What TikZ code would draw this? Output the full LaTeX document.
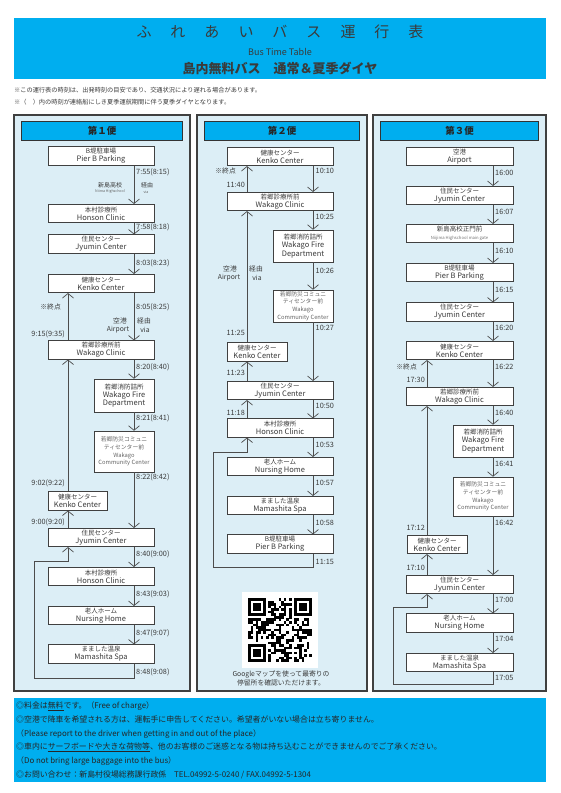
\documentclass[tikz,border=0pt]{standalone}
\usepackage{fontspec}
\setmainfont{Noto Sans CJK JP}
\usetikzlibrary{arrows.meta,positioning}
\definecolor{hdrblue}{HTML}{00AEEF}
\definecolor{panelblue}{HTML}{DCEEF6}
\definecolor{inkgray}{HTML}{3A3A3A}
\newcommand\stoptxt[2]{{\fontsize{6.5}{8.2}\selectfont #1}\\{\fontsize{7.5}{8.2}\selectfont #2}}
\newcommand\firetxt{{\fontsize{6.5}{8.2}\selectfont 若郷消防詰所}\\Wakago Fire\\Department}
\newcommand\titlesp{\hspace{19pt}}

\begin{document}
\begin{tikzpicture}[x=1pt,y=-1pt,>={Straight Barb[length=4.5pt,width=11pt]},
 every node/.style={text=inkgray},
 stopbox/.style={draw=black!75,fill=white,line width=0.6pt,align=center,inner sep=0pt,
   minimum width=106pt,minimum height=18.5pt,font=\fontsize{7.5}{8.2}\selectfont},
 sidebox/.style={stopbox,minimum width=60pt},
 commbox/.style={sidebox,text=black!60,font=\fontsize{5.8}{7.6}\selectfont},
 panel/.style={draw=black!75,fill=panelblue,line width=1.2pt},
 headbar/.style={draw=black!80,fill=hdrblue,line width=0.6pt,minimum height=19pt,
   inner sep=0pt,text=black!85,font=\fontsize{9.5}{10}\selectfont\bfseries},
 flow/.style={->,draw=black!70,line width=0.7pt},
 tlab/.style={inner sep=0pt,font=\fontsize{7.3}{8}\selectfont},
 vlab/.style={inner sep=0pt,font=\fontsize{6.8}{7}\selectfont},
 tiny/.style={inner sep=0pt,text=black!60,font=\fontsize{3.6}{4}\selectfont},
 note/.style={anchor=west,inner sep=0pt,font=\fontsize{6.2}{7}\selectfont},
 foot/.style={anchor=west,inner sep=0pt,text=black!85,font=\fontsize{7.9}{9}\selectfont}]
\useasboundingbox (0,0) rectangle (560,793);

% header
\node[fill=hdrblue,minimum width=532pt,minimum height=61pt,inner sep=0pt] (hdr) at (280,48.5) {};
\node (title) at (280,32) {\fontsize{15}{15}\selectfont ふ\titlesp{}れ\titlesp{}あ\titlesp{}い\titlesp{}バ\titlesp{}ス\titlesp{}運\titlesp{}行\titlesp{}表};
\node (titleen) at (280,52) {\fontsize{9}{9}\selectfont Bus Time Table};
\node (titlejp) at (280,68) {\fontsize{13}{13}\selectfont\bfseries 島内無料バス　通常＆夏季ダイヤ};
\node[note] (note1) at (14,90) {※この運行表の時刻は、出発時刻の目安であり、交通状況により遅れる場合があります。};
\node[note] (note2) at (14,102) {※（　）内の時刻が連絡船にしき夏季運航期間に伴う夏季ダイヤとなります。};

% panels and headings
\foreach \l/\r in {14/190,197/367,373/546}{\draw[panel] (\l,115) rectangle (\r,691);}
\foreach \cx/\w/\n [count=\k] in {102/161/１,282/155/２,459.5/158/３}{
  \node[headbar,minimum width=\w pt] (bar\k) at (\cx,130.5) {第\n 便};}

% ---- 1st run
\coordinate (c1r) at (134,0);
\coordinate (c1l) at (68,0);
\node[stopbox] (c1pier) at (101,156) {\stoptxt{B堤駐車場}{Pier B Parking}};
\node[stopbox] (c1honson) at (101,213.5) {\stoptxt{本村診療所}{Honson Clinic}};
\node[stopbox] (c1jyumin) at (101,244) {\stoptxt{住民センター}{Jyumin Center}};
\node[stopbox] (c1kenko) at (101,283.5) {\stoptxt{健康センター}{Kenko Center}};
\node[stopbox] (c1wclinic) at (101,350) {\stoptxt{若郷診療所前}{Wakago Clinic}};
\node[sidebox,minimum height=33pt] (c1fire) at (124,395.5) {\firetxt};
\node[commbox,minimum height=41pt] (c1comm) at (124,451.5) {若郷防災コミュニ\\ティセンター前\\Wakago\\Community Center};
\node[sidebox,minimum width=59pt] (c1kenko2) at (77.5,501) {\stoptxt{健康センター}{Kenko Center}};
\node[stopbox] (c1jyumin2) at (101,537.5) {\stoptxt{住民センター}{Jyumin Center}};
\node[stopbox] (c1honson2) at (101,576.5) {\stoptxt{本村診療所}{Honson Clinic}};
\node[stopbox] (c1nursing) at (101,615.5) {\stoptxt{老人ホーム}{Nursing Home}};
\node[stopbox] (c1spa) at (101,654) {\stoptxt{まました温泉}{Mamashita Spa}};
\foreach \a/\b in {c1pier/c1honson,c1honson/c1jyumin,c1jyumin/c1kenko,c1kenko/c1wclinic,
  c1wclinic/c1fire,c1fire/c1comm,c1comm/c1jyumin2,c1jyumin2/c1honson2,c1honson2/c1nursing,c1nursing/c1spa}
  {\draw[flow] (\a.south -| c1r) -- (\b.north -| c1r);}
\foreach \a/\b in {c1wclinic/c1kenko,c1kenko2/c1wclinic,c1jyumin2/c1kenko2}
  {\draw[flow] (\a.north -| c1l) -- (\b.south -| c1l);}
\coordinate (c1turn) at (34,678);
\coordinate (c1back) at (68,561);
\draw[flow] (c1spa.south -| c1r) |- (c1turn) |- (c1back) -- (c1jyumin2.south -| c1l);
\foreach \lab/\y [count=\i] in {7:55(8:15)/172,7:58(8:18)/227,8:03(8:23)/263,8:05(8:25)/307,
  8:20(8:40)/367,8:21(8:41)/418,8:22(8:42)/477,8:40(9:00)/554,8:43(9:03)/594,8:47(9:07)/633,8:48(9:08)/672}
  {\node[tlab,anchor=west] (c1t\i) at (136,\y) {\lab};}
\foreach \lab/\y [count=\i] in {9:15(9:35)/334,9:02(9:22)/483,9:00(9:20)/522}
  {\node[tlab,anchor=east] (c1s\i) at (65,\y) {\lab};}
\node[vlab,anchor=east] (c1end) at (61,307) {※終点};
\node[vlab,font=\fontsize{6}{7}\selectfont] (c1via1) at (110,185) {新島高校};
\node[tiny] (c1via1en) at (110,192) {Niima Highschool};
\node[vlab,font=\fontsize{6}{7}\selectfont] (c1via2) at (147,185) {経由};
\node[tiny] (c1via2en) at (146,192) {via};
\node[vlab] (c1air) at (120,321) {空港};
\node[vlab] (c1airen) at (118,329.5) {Airport};
\node[vlab] (c1via3) at (144,321) {経由};
\node[vlab] (c1via3en) at (145,329.5) {via};

% ---- 2nd run
\coordinate (c2r) at (313,0);
\coordinate (c2l) at (247,0);
\node[stopbox] (c2kenko) at (280,156.5) {\stoptxt{健康センター}{Kenko Center}};
\node[stopbox] (c2wclinic) at (280,201.5) {\stoptxt{若郷診療所前}{Wakago Clinic}};
\node[sidebox,minimum height=32pt] (c2fire) at (303,246) {\firetxt};
\node[commbox,minimum height=32pt] (c2comm) at (303,306) {若郷防災コミュニ\\ティセンター前\\Wakago\\Community Center};
\node[sidebox] (c2kenko2) at (257,352) {\stoptxt{健康センター}{Kenko Center}};
\node[stopbox] (c2jyumin) at (280,390.5) {\stoptxt{住民センター}{Jyumin Center}};
\node[stopbox] (c2honson) at (280,428) {\stoptxt{本村診療所}{Honson Clinic}};
\node[stopbox] (c2nursing) at (280,466.5) {\stoptxt{老人ホーム}{Nursing Home}};
\node[stopbox] (c2spa) at (280,505.5) {\stoptxt{まました温泉}{Mamashita Spa}};
\node[stopbox] (c2pier) at (280,544) {\stoptxt{B堤駐車場}{Pier B Parking}};
\foreach \a/\b in {c2kenko/c2wclinic,c2wclinic/c2fire,c2fire/c2comm,c2comm/c2jyumin,
  c2jyumin/c2honson,c2honson/c2nursing,c2nursing/c2spa,c2spa/c2pier}
  {\draw[flow] (\a.south -| c2r) -- (\b.north -| c2r);}
\foreach \a/\b in {c2wclinic/c2kenko,c2kenko2/c2wclinic,c2jyumin/c2kenko2,c2honson/c2jyumin}
  {\draw[flow] (\a.north -| c2l) -- (\b.south -| c2l);}
\coordinate (c2turn) at (213,567);
\coordinate (c2back) at (247,452);
\draw[flow] (c2pier.south -| c2r) |- (c2turn) |- (c2back) -- (c2honson.south -| c2l);
\foreach \lab/\y [count=\i] in {10:10/171,10:25/217,10:26/271,10:27/328,10:50/406,10:53/445,10:57/483,10:58/523,11:15/562}
  {\node[tlab,anchor=west] (c2t\i) at (315.5,\y) {\lab};}
\foreach \lab/\y [count=\i] in {11:40/185,11:25/333,11:23/373,11:18/413}
  {\node[tlab,anchor=east] (c2s\i) at (245,\y) {\lab};}
\node[vlab,anchor=east] (c2end) at (236,171) {※終点};
\node[vlab] (c2air) at (230,269) {空港};
\node[vlab] (c2airen) at (229,277.5) {Airport};
\node[vlab] (c2via) at (256,269) {経由};
\node[vlab] (c2viaen) at (257,277.5) {via};

% QR code
\node[fill=white,minimum size=76pt,inner sep=0pt] (qr) at (280,630) {};
\pgfmathsetseed{42}
\foreach \i in {0,...,24}{\foreach \j in {0,...,24}{
  \pgfmathrandominteger{\qb}{0}{99}
  \pgfmathtruncatemacro{\qs}{((\i<8)&&(\j<8))||((\i>16)&&(\j<8))||((\i<8)&&(\j>16))}
  \ifnum\qs=0 \ifnum\qb<52 \fill (248+2.56*\i,598+2.56*\j) rectangle ++(2.6,2.6); \fi\fi}}
\foreach \fx/\fy in {0/0,18/0,0/18}{
  \fill (248+2.56*\fx,598+2.56*\fy) rectangle ++(17.92,17.92);
  \fill[white] (250.56+2.56*\fx,600.56+2.56*\fy) rectangle ++(12.8,12.8);
  \fill (253.12+2.56*\fx,603.12+2.56*\fy) rectangle ++(7.68,7.68);}
\node[align=center,inner sep=0pt,font=\fontsize{6.8}{9.5}\selectfont] (qrcap) at (281,678.5)
  {Googleマップを使って最寄りの\\停留所を確認いただけます。};

% ---- 3rd run
\coordinate (c3r) at (493,0);
\coordinate (c3l) at (427,0);
\node[stopbox,minimum width=107pt] (c3airport) at (459.5,156.5) {\stoptxt{空港}{Airport}};
\node[stopbox,minimum width=107pt] (c3jyumin) at (459.5,195.5) {\stoptxt{住民センター}{Jyumin Center}};
\node[stopbox,minimum width=107pt] (c3gate) at (459.5,233.5) {{\fontsize{6.5}{8.2}\selectfont 新島高校正門前}\\{\fontsize{4.2}{8.2}\selectfont\color{black!55}Niijima Highschool main gate}};
\node[stopbox,minimum width=107pt] (c3pier) at (459.5,272.5) {\stoptxt{B堤駐車場}{Pier B Parking}};
\node[stopbox,minimum width=107pt] (c3jyumin2) at (459.5,312) {\stoptxt{住民センター}{Jyumin Center}};
\node[stopbox,minimum width=107pt] (c3kenko) at (459.5,350.5) {\stoptxt{健康センター}{Kenko Center}};
\node[stopbox,minimum width=107pt] (c3wclinic) at (459.5,396.5) {\stoptxt{若郷診療所前}{Wakago Clinic}};
\node[sidebox,minimum height=32pt] (c3fire) at (483,441) {\firetxt};
\node[commbox,minimum height=39pt] (c3comm) at (483,496.5) {若郷防災コミュニ\\ティセンター前\\Wakago\\Community Center};
\node[sidebox] (c3kenko2) at (437,544.5) {\stoptxt{健康センター}{Kenko Center}};
\node[stopbox,minimum width=107pt] (c3jyumin3) at (459.5,584.5) {\stoptxt{住民センター}{Jyumin Center}};
\node[stopbox,minimum width=107pt] (c3nursing) at (459.5,623) {\stoptxt{老人ホーム}{Nursing Home}};
\node[stopbox,minimum width=107pt] (c3spa) at (459.5,662.5) {\stoptxt{まました温泉}{Mamashita Spa}};
\foreach \a/\b in {c3airport/c3jyumin,c3jyumin/c3gate,c3gate/c3pier,c3pier/c3jyumin2,c3jyumin2/c3kenko,
  c3kenko/c3wclinic,c3wclinic/c3fire,c3fire/c3comm,c3comm/c3jyumin3,c3jyumin3/c3nursing,c3nursing/c3spa}
  {\draw[flow] (\a.south -| c3r) -- (\b.north -| c3r);}
\foreach \a/\b in {c3wclinic/c3kenko,c3kenko2/c3wclinic,c3jyumin3/c3kenko2}
  {\draw[flow] (\a.north -| c3l) -- (\b.south -| c3l);}
\coordinate (c3turn) at (393,684);
\coordinate (c3back) at (427,607);
\draw[flow] (c3spa.south -| c3r) |- (c3turn) |- (c3back) -- (c3jyumin3.south -| c3l);
\foreach \lab/\y [count=\i] in {16:00/173,16:07/212,16:10/251,16:15/290,16:20/328,16:22/367,
  16:40/413,16:41/464,16:42/523,17:00/600,17:04/639,17:05/678}
  {\node[tlab,anchor=west] (c3t\i) at (495,\y) {\lab};}
\foreach \lab/\y [count=\i] in {17:30/380,17:12/528,17:10/568}
  {\node[tlab,anchor=east] (c3s\i) at (425,\y) {\lab};}
\node[vlab,anchor=east] (c3end) at (417,367) {※終点};

% footer
\node[fill=hdrblue,minimum width=532pt,minimum height=84pt,inner sep=0pt] (ftr) at (280,740) {};
\node[foot] (f1) at (16,706) {◎料金は\underline{無料}です。（Free of charge）};
\node[foot] (f2) at (16,720) {◎空港で降車を希望される方は、運転手に申告してください。希望者がいない場合は立ち寄りません。};
\node[foot] (f3) at (16,734) {（Please report to the driver when getting in and out of the place）};
\node[foot] (f4) at (16,747) {◎車内に\underline{サーフボードや大きな荷物等}、他のお客様のご迷惑となる物は持ち込むことができませんのでご了承ください。};
\node[foot] (f5) at (16,761) {（Do not bring large baggage into the bus）};
\node[foot] (f6) at (16,775) {◎お問い合わせ：新島村役場総務課行政係　TEL.04992-5-0240 / FAX.04992-5-1304};
\end{tikzpicture}
\end{document}
